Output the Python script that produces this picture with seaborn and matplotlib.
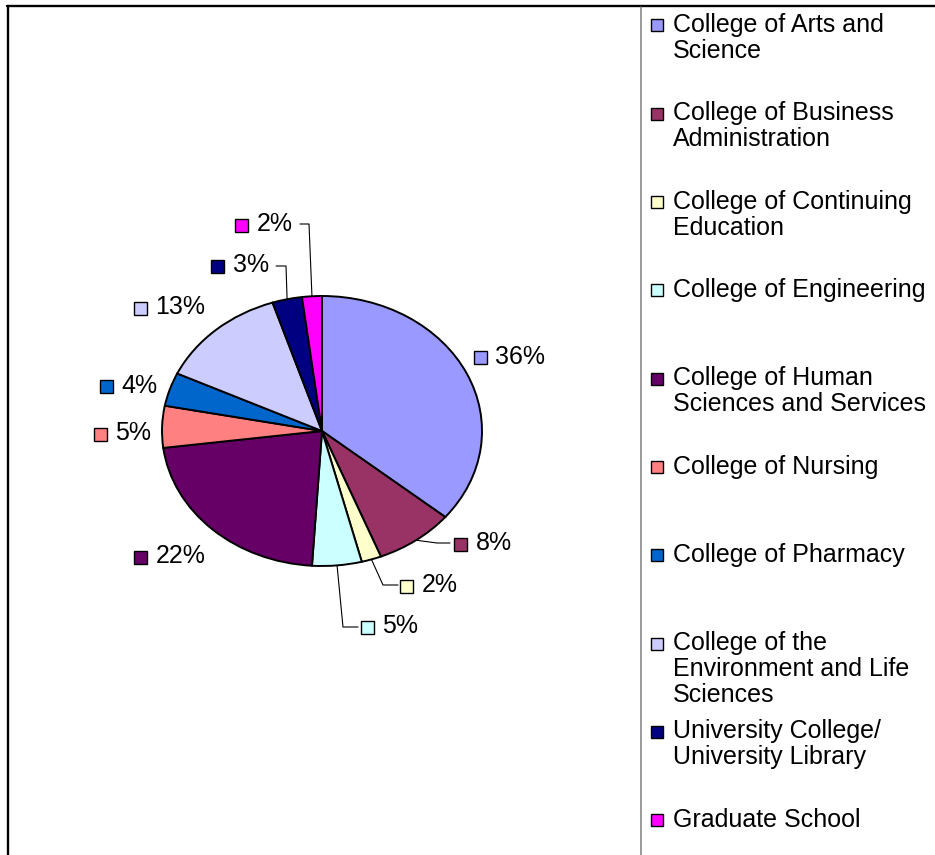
import matplotlib
matplotlib.use("Agg")
import matplotlib.pyplot as plt
from matplotlib.patches import Rectangle
import numpy as np
import seaborn as sns

# Data
colleges = [
    "College of Arts and\nScience",
    "College of Business\nAdministration",
    "College of Continuing\nEducation",
    "College of Engineering",
    "College of Human\nSciences and Services",
    "College of Nursing",
    "College of Pharmacy",
    "College of the\nEnvironment and Life\nSciences",
    "University College/\nUniversity Library",
    "Graduate School",
]
shares = [36, 8, 2, 5, 22, 5, 4, 13, 3, 2]
colors = ["#9999FF", "#993366", "#FFFFCC", "#CCFFFF", "#660066",
          "#FF8080", "#0066CC", "#CCCCFF", "#000080", "#FF00FF"]

# Layout (pixels): label key centres and leader line elbows
label_keys = [(480, 358), (460, 544), (406, 586), (367, 627), (140, 557),
              (100, 434), (106, 387), (140, 308), (217, 266), (241, 225)]
leaders = {1: [(437, 543), (450, 543)], 2: [(383, 585), (398, 585)],
           3: [(343, 627), (358, 627)], 8: [(286, 266), (276, 266)],
           9: [(309, 224), (300, 224)]}

sns.set_style("white")
plt.rcParams["font.family"] = ["Liberation Sans", "DejaVu Sans"]
plt.rcParams["text.color"] = "black"

W, H = 935, 855
CX, CY, RX, RY = 322, 431, 160, 135
FS = 18

fig = plt.figure(figsize=(W / 100, H / 100), dpi=100)
lim = 1.25
ax = fig.add_axes([(CX - lim * RX) / W, (H - CY - lim * RY) / H,
                   2 * lim * RX / W, 2 * lim * RY / H])
wedges, _ = ax.pie(shares, colors=colors, startangle=90, counterclock=False,
                   wedgeprops=dict(edgecolor="black", linewidth=1.4))
ax.set_aspect("auto")
ax.set_xlim(-lim, lim)
ax.set_ylim(-lim, lim)

# overlay in pixel coordinates for labels, legend and frame
lay = fig.add_axes([0, 0, 1, 1], zorder=5)
lay.set_xlim(0, W)
lay.set_ylim(H, 0)
lay.axis("off")
lay.patch.set_visible(False)

for i, (w, v) in enumerate(zip(wedges, shares)):
    kx, ky = label_keys[i]
    lay.add_patch(Rectangle((kx - 6.5, ky - 6.5), 13, 13, facecolor=colors[i],
                            edgecolor="black", linewidth=1))
    lay.text(kx + 15.5, ky + 6, f"{v}%", fontsize=FS, color="black",
             ha="left", va="baseline")
    if i in leaders:
        mid = np.deg2rad((w.theta1 + w.theta2) / 2)
        ex, ey = CX + RX * np.cos(mid), CY - RY * np.sin(mid)
        pts = [(ex, ey)] + leaders[i]
        lay.plot([p[0] for p in pts], [p[1] for p in pts], color="black",
                 linewidth=0.8)

# legend
for i, name in enumerate(colleges):
    base = 32 + i * 88.3
    lay.add_patch(Rectangle((651, base - 12.5), 12, 12, facecolor=colors[i],
                            edgecolor="black", linewidth=1))
    for k, line in enumerate(name.split("\n")):
        lay.text(673, base + k * 26, line, fontsize=FS, color="black",
                 ha="left", va="baseline")

# frame
lay.plot([7, W], [6.5, 6.5], color="black", linewidth=1.7, clip_on=False)
lay.plot([8, 8], [6, H], color="black", linewidth=1.7, clip_on=False)
lay.plot([641, 641], [7, H], color="#808080", linewidth=1.1, clip_on=False)

fig.savefig("out.png", dpi=100)
